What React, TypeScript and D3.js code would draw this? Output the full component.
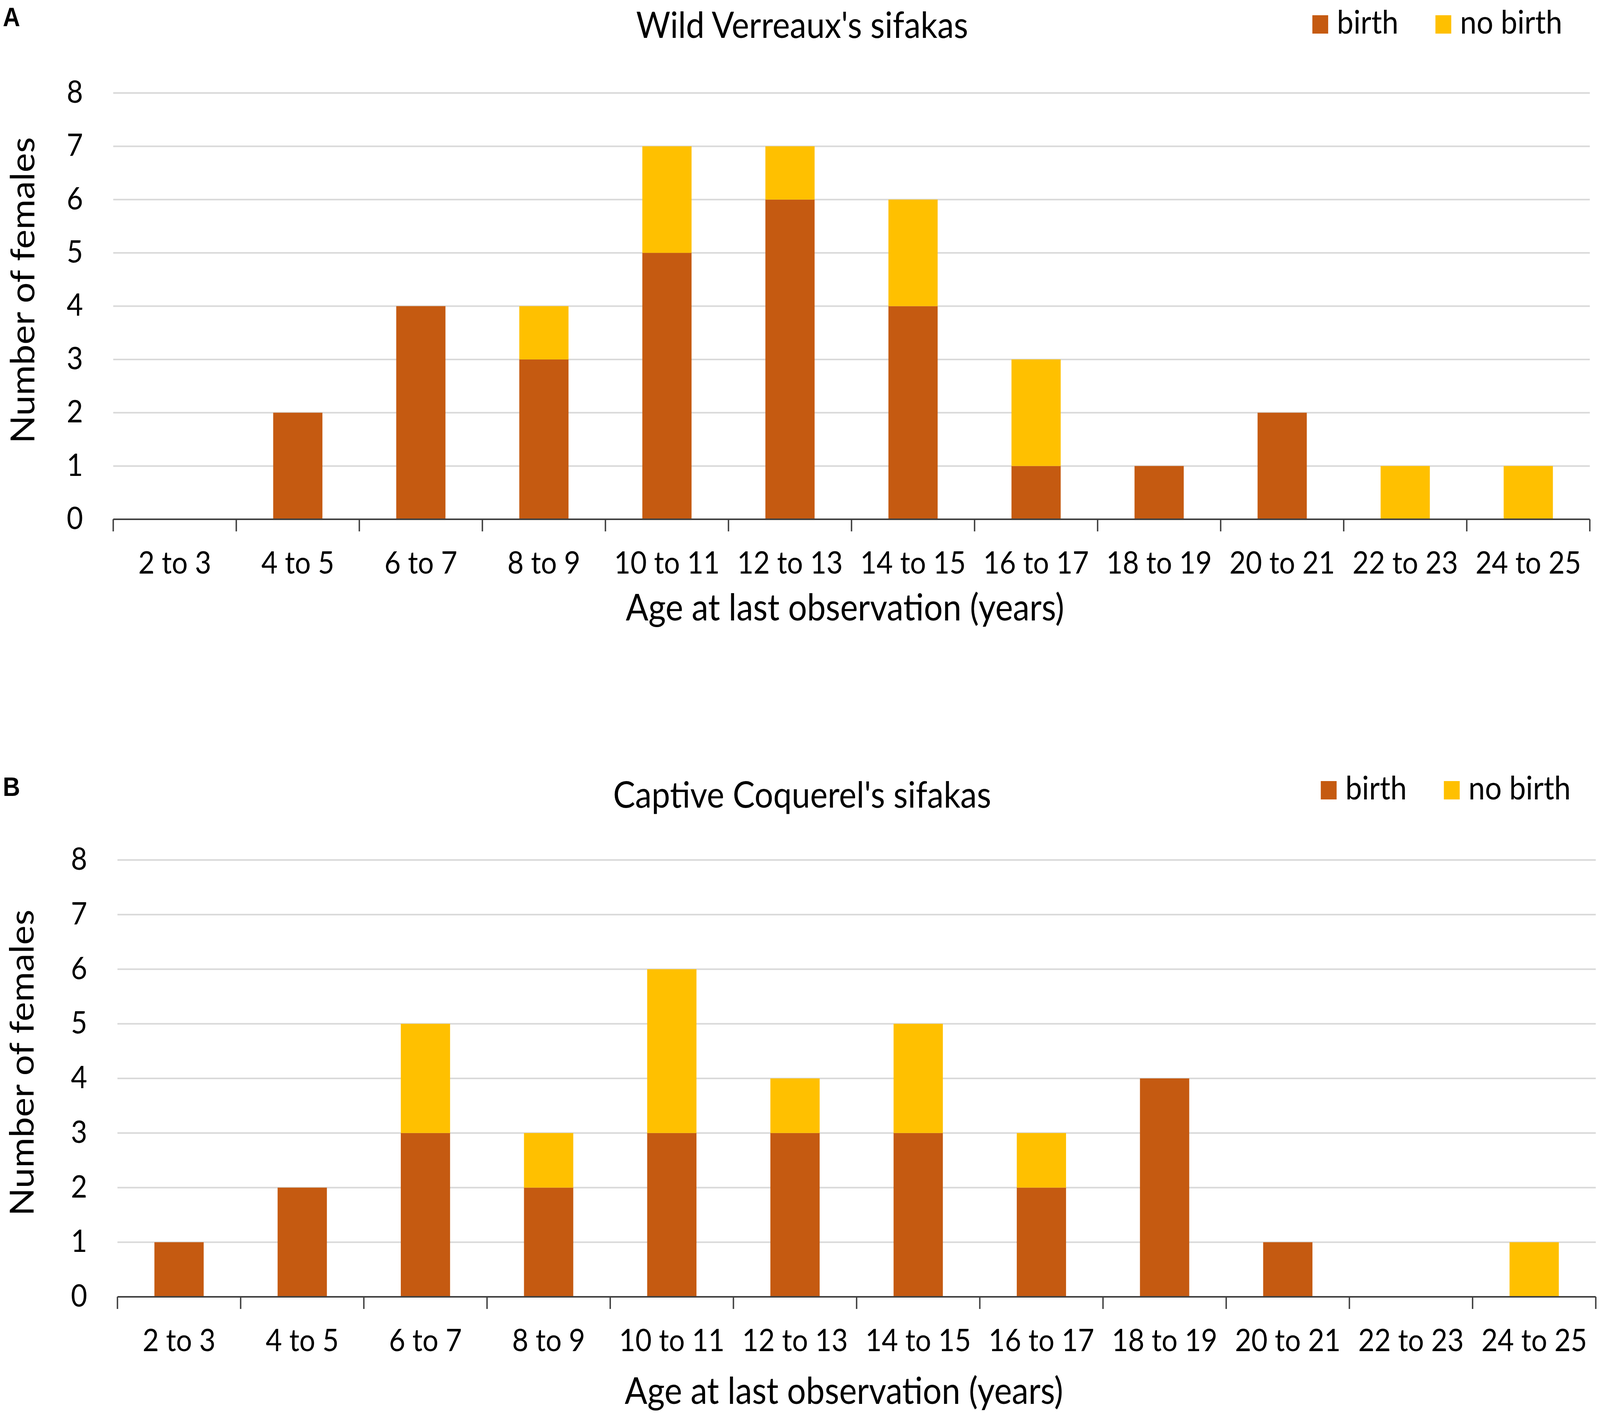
import React from 'react'
import * as d3 from 'd3'

// age classes shared by both panels
const AGE_CLASSES = [
  '2 to 3', '4 to 5', '6 to 7', '8 to 9', '10 to 11', '12 to 13',
  '14 to 15', '16 to 17', '18 to 19', '20 to 21', '22 to 23', '24 to 25',
]

// panel A: wild Verreaux's sifakas
const WILD_BIRTH = [0, 2, 4, 3, 5, 6, 4, 1, 1, 2, 0, 0]
const WILD_NO_BIRTH = [0, 0, 0, 1, 2, 1, 2, 2, 0, 0, 1, 1]

// panel B: captive Coquerel's sifakas
const CAPTIVE_BIRTH = [1, 2, 3, 2, 3, 3, 3, 2, 4, 1, 0, 0]
const CAPTIVE_NO_BIRTH = [0, 0, 2, 1, 3, 1, 2, 1, 0, 0, 0, 1]

const Y_TICKS = [0, 1, 2, 3, 4, 5, 6, 7, 8]
const SERIES = ['birth', 'no birth']

const W = 4550
const H = 3624
const FONT = 'Lato, "Open Sans", sans-serif'
const COLORS: Record<string, string> = { 'birth': '#C55A11', 'no birth': '#FFC000' }
const GRID = '#D9D9D9'
const AXIS = '#404040'

type Layout = {
  left: number; right: number; top: number; bottom: number
  labelY: number; titleY: number; xTitleX: number; xTitleY: number
  yTitleX: number; yTitleY: number; legendX: number; legendY: number
}

type PanelProps = {
  letter: string
  title: string
  birth: number[]
  noBirth: number[]
  L: Layout
}

function Panel({ letter, title, birth, noBirth, L }: PanelProps) {
  const rows = AGE_CLASSES.map((c, i) => ({ age: c, 'birth': birth[i], 'no birth': noBirth[i] }))
  const stacked = d3.stack<any>().keys(SERIES)(rows)

  const x = d3.scaleBand<string>()
    .domain(AGE_CLASSES)
    .range([L.left, L.right])
    .paddingInner(0.6)
    .paddingOuter(0.3)
  const y = d3.scaleLinear().domain([0, 8]).range([L.bottom, L.top])
  const step = x.step()
  const bounds = d3.range(AGE_CLASSES.length + 1).map(i => L.left + i * step)

  return (
    <g>
      <text x={8} y={L.labelY} fontFamily='"Liberation Sans", Arial, sans-serif' fontWeight={700} fontSize={68} fill="#000">{letter}</text>
      <text x={2281} y={L.titleY} textAnchor="middle" fontFamily={FONT} fontSize={94} fill="#000">{title}</text>

      {/* legend */}
      {SERIES.map((s, i) => {
        const lx = L.legendX + i * 350
        return (
          <g key={s}>
            <rect x={lx} y={L.legendY - 47} width={45} height={47} fill={COLORS[s]} />
            <text x={lx + 70} y={L.legendY} fontFamily={FONT} fontSize={84} fill="#000">{s}</text>
          </g>
        )
      })}

      {/* gridlines */}
      {Y_TICKS.filter(t => t > 0).map(t => (
        <line key={t} x1={L.left} x2={L.right} y1={y(t)} y2={y(t)} stroke={GRID} strokeWidth={4} />
      ))}

      {/* bars */}
      {stacked.map(layer => (
        <g key={layer.key} fill={COLORS[layer.key]}>
          {layer.map((d, i) => d[1] - d[0] > 0 ? (
            <rect key={i} x={x(AGE_CLASSES[i])} width={x.bandwidth()}
              y={y(d[1])} height={y(d[0]) - y(d[1])} />
          ) : null)}
        </g>
      ))}

      {/* axis */}
      <line x1={L.left} x2={L.right} y1={L.bottom} y2={L.bottom} stroke={AXIS} strokeWidth={4} />
      {bounds.map((bx, i) => (
        <line key={i} x1={bx} x2={bx} y1={L.bottom} y2={L.bottom + 31} stroke={AXIS} strokeWidth={4} />
      ))}

      {Y_TICKS.map(t => (
        <text key={t} x={L.left - 86} y={y(t) - 6} textAnchor="end" dominantBaseline="central"
          fontFamily={FONT} fontSize={80} fill="#000">{t}</text>
      ))}
      {AGE_CLASSES.map(c => (
        <text key={c} x={x(c)! + x.bandwidth() / 2} y={L.bottom + 139} textAnchor="middle"
          fontFamily={FONT} fontSize={80} fill="#000">{c}</text>
      ))}

      <text x={L.xTitleX} y={L.xTitleY} textAnchor="middle" fontFamily={FONT} fontSize={95} fill="#000">
        Age at last observation (years)
      </text>
      <text transform={`translate(${L.yTitleX},${L.yTitleY}) rotate(-90)`} textAnchor="middle"
        fontFamily={FONT} fontSize={94} fill="#000">Number of females</text>
    </g>
  )
}

const LAYOUT_A: Layout = {
  left: 322, right: 4521, top: 238, bottom: 1329,
  labelY: 67, titleY: 97, xTitleX: 2403, xTitleY: 1588,
  yTitleX: 98, yTitleY: 743, legendX: 3732, legendY: 86,
}

const LAYOUT_B: Layout = {
  left: 334, right: 4538, top: 2201, bottom: 3319,
  labelY: 2037, titleY: 2067, xTitleX: 2400, xTitleY: 3593,
  yTitleX: 96, yTitleY: 2720, legendX: 3756, legendY: 2046,
}

export default function App() {
  // fill the viewport whatever its real size, keeping the reference coordinate frame
  return (
    <svg viewBox={`0 0 ${W} ${H}`} preserveAspectRatio="none"
      style={{ position: 'fixed', left: 0, top: 0, width: '100vw', height: '100vh', display: 'block', background: '#fff' }}>
      <rect width={W} height={H} fill="#fff" />
      <Panel letter="A" title="Wild Verreaux's sifakas" birth={WILD_BIRTH} noBirth={WILD_NO_BIRTH} L={LAYOUT_A} />
      <Panel letter="B" title="Captive Coquerel's sifakas" birth={CAPTIVE_BIRTH} noBirth={CAPTIVE_NO_BIRTH} L={LAYOUT_B} />
    </svg>
  )
}
